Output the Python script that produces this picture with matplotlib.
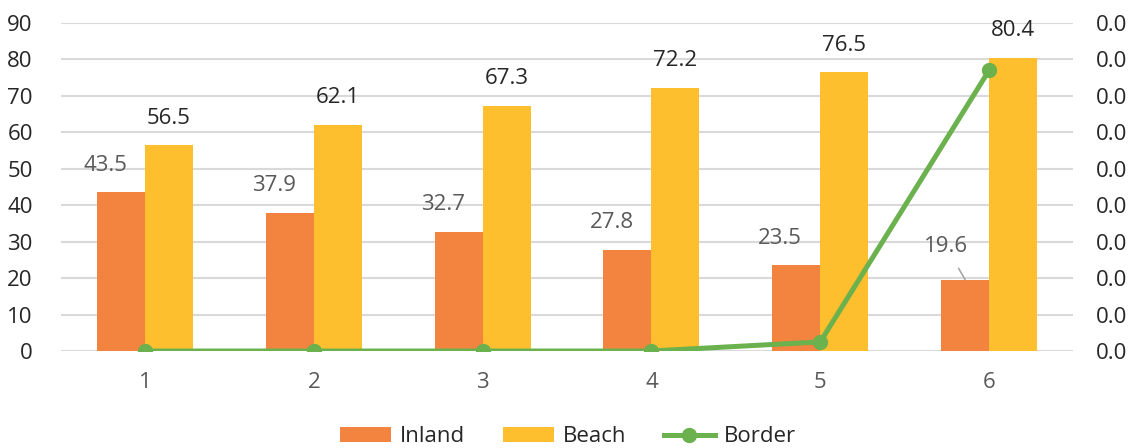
import numpy as np
import matplotlib
matplotlib.use("Agg")
import matplotlib.pyplot as plt
from matplotlib.ticker import FormatStrFormatter

categories = ["1", "2", "3", "4", "5", "6"]
inland = [43.5, 37.9, 32.7, 27.8, 23.5, 19.6]
beach = [56.5, 62.1, 67.3, 72.2, 76.5, 80.4]
border = [0.0, 0.0, 0.0, 0.0, 0.00025, 0.0077]

c_inland = "#F28440"
c_beach = "#FDBF2D"
c_border = "#6BB14E"
grid_c = "#D9D9D9"
fs = 16

plt.rcParams["font.family"] = ["Open Sans", "DejaVu Sans"]

fig = plt.figure(figsize=(11.38, 4.48), dpi=100)
ax = fig.add_axes([0.0532, 0.2165, 0.8901, 0.7322])
x = np.arange(len(categories))
w = 0.284

b1 = ax.bar(x - w / 2, inland, w, color=c_inland, label="Inland", zorder=2)
b2 = ax.bar(x + w / 2, beach, w, color=c_beach, label="Beach", zorder=2)

ax.set_xlim(-0.5, len(categories) - 0.5)
ax.set_ylim(0, 90)
ax.set_yticks(np.arange(0, 91, 10))
ax.set_xticks(x)
ax.set_xticklabels(categories)
ax.yaxis.grid(True, color=grid_c, linewidth=1.5, zorder=0)
ax.set_axisbelow(True)
for s in ax.spines.values():
    s.set_visible(False)
ax.tick_params(axis="both", length=0, labelsize=fs)
ax.tick_params(axis="y", labelcolor="#262626", pad=20)
ax.tick_params(axis="x", labelcolor="#595959", pad=15)

# value labels
for i, v in enumerate(inland):
    if i == len(inland) - 1:
        ax.annotate(f"{v:.1f}", xy=(x[i] - w / 2, v), xytext=(-19, 33),
                    textcoords="offset pixels", ha="center", va="center",
                    fontsize=fs, color="#595959",
                    arrowprops=dict(arrowstyle="-", color="#A6A6A6", lw=1.2,
                                    shrinkA=7, shrinkB=0))
    else:
        ax.annotate(f"{v:.1f}", xy=(x[i] - w / 2, v), xytext=(-16, 27),
                    textcoords="offset pixels", ha="center", va="center",
                    fontsize=fs, color="#595959")
for i, v in enumerate(beach):
    ax.annotate(f"{v:.1f}", xy=(x[i] + w / 2, v), xytext=(0, 27),
                textcoords="offset pixels", ha="center", va="center",
                fontsize=fs, color="#262626")

# border on secondary axis
ax2 = ax.twinx()
ax2.set_ylim(0, 0.009)
ax2.set_yticks(np.arange(0, 0.0091, 0.001))
ax2.yaxis.set_major_formatter(FormatStrFormatter("%.1f"))
ax2.tick_params(axis="y", length=0, labelsize=fs, labelcolor="#262626", pad=16)
for s in ax2.spines.values():
    s.set_visible(False)
ln, = ax2.plot(x, border, color=c_border, linewidth=3.6, marker="o",
               markersize=10, label="Border", zorder=3)

handles = [b1, b2, ln]
fig.legend(handles, [h.get_label() for h in handles], loc="center",
           bbox_to_anchor=(0.499, 0.025), ncol=3, frameon=False, fontsize=fs,
           handlelength=2.3, handleheight=0.65, columnspacing=1.7,
           handletextpad=0.4, labelcolor="#262626")

fig.savefig("out.png", dpi=100)
